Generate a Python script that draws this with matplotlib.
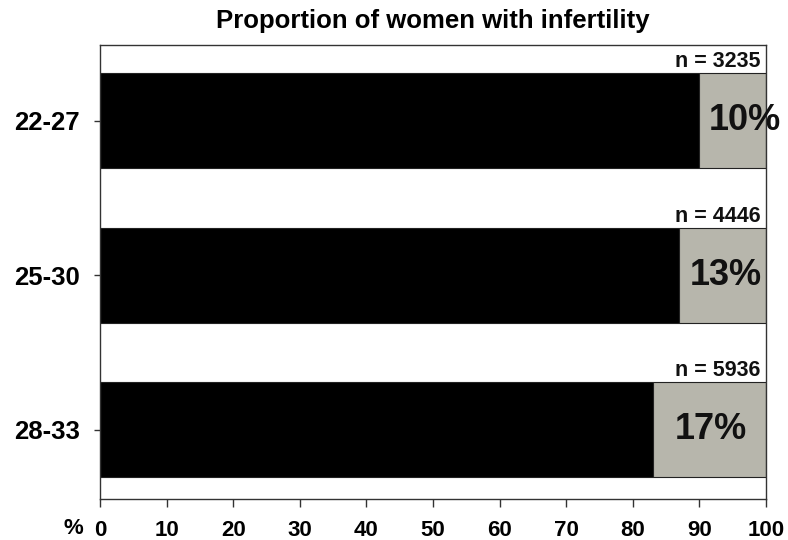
import matplotlib
matplotlib.use("Agg")
import matplotlib.pyplot as plt
from matplotlib.transforms import offset_copy

plt.rcParams['font.family'] = ['Liberation Sans', 'DejaVu Sans']

age_groups = ["22-27", "25-30", "28-33"]
infertile_pct = [10, 13, 17]
sample_sizes = [3235, 4446, 5936]
x_ticks = [0, 10, 20, 30, 40, 50, 60, 70, 80, 90, 100]

fertile_pct = [100 - p for p in infertile_pct]

# horizontal nudge (points) for the percentage labels
label_nudge_pt = [9, 2, 1]

fig = plt.figure(figsize=(7.88, 5.40), dpi=100)
ax = fig.add_axes([100 / 788, 1 - 499 / 540, 666 / 788, 454 / 540])

ypos = list(range(len(age_groups)))
bar_h = 0.614
ax.barh(ypos, fertile_pct, height=bar_h, color="black", edgecolor="#222222", linewidth=0.8)
ax.barh(ypos, infertile_pct, left=fertile_pct, height=bar_h, color="#b7b6ac",
        edgecolor="#222222", linewidth=0.8)

for y, f, p, n, dx in zip(ypos, fertile_pct, infertile_pct, sample_sizes, label_nudge_pt):
    tr = offset_copy(ax.transData, fig=fig, x=dx, y=0, units="points")
    ax.text(f + p / 2, y, f"{p}%", ha="center", va="center", transform=tr,
            fontsize=26, fontweight="bold", color="#111111", clip_on=False)
    ax.text(99.2, y - bar_h / 2 - 0.04, f"n = {n}", ha="right", va="baseline",
            fontsize=15.5, fontweight="bold", color="#111111")

ax.set_xlim(0, 100)
ax.set_ylim(2.446, -0.488)
ax.set_xticks(x_ticks)
ax.set_xticklabels([str(t) for t in x_ticks], fontsize=16, fontweight="bold")
ax.set_yticks(ypos)
ax.set_yticklabels(age_groups, fontsize=18.5, fontweight="bold")
ax.tick_params(axis="x", direction="out", length=6, width=1, pad=9, color="#333333")
ax.tick_params(axis="y", direction="out", length=4.5, width=1, pad=10, color="#333333")
for s in ax.spines.values():
    s.set_color("#333333")
    s.set_linewidth(1)

fig.text(73.5 / 788, 1 - 529 / 540, "%", ha="center", va="center",
         fontsize=16, fontweight="bold")
fig.text(433 / 788, 1 - 28 / 540, "Proportion of women with infertility",
         ha="center", va="baseline", fontsize=18.5, fontweight="bold")

fig.savefig("out.png", dpi=100)
